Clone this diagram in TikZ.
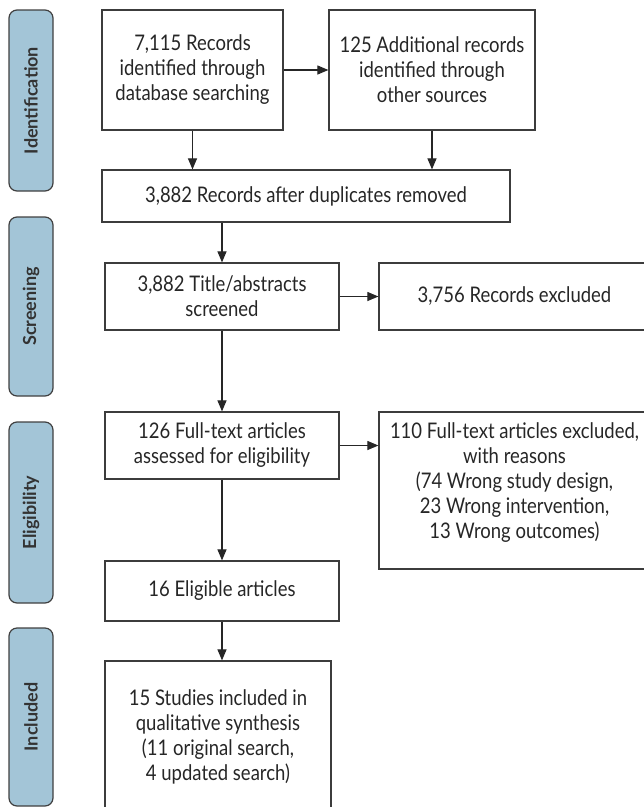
\documentclass[tikz,border=0pt]{standalone}
\usepackage{fontspec}
\setmainfont{Lato}[FakeStretch=0.86]
\newfontfamily\stagefont{Lato}
\usetikzlibrary{arrows.meta}
\definecolor{stageblue}{RGB}{163,197,215}
\definecolor{boxgray}{RGB}{60,60,60}

\begin{document}
\begin{tikzpicture}[x=1pt,y=-1pt,
      box/.style={draw=boxgray,line width=1.2pt,align=center,inner sep=0pt,
        font=\fontsize{21.5}{25}\selectfont,text=black!85},
      stage/.style={draw=black!75,line width=1.2pt,fill=stageblue,
        rounded corners=8pt,rotate=90,minimum height=44pt,inner sep=0pt,
        font=\stagefont\bfseries\fontsize{18}{20}\selectfont,text=black!80},
      arr/.style={draw=black!85,line width=1.1pt,
        -{Triangle[length=11pt,width=9pt]}}]
    \clip (0,0) rectangle (644,807);
    \node[stage,minimum width=181pt] (ident) at (31,100.5) {Identification};
    \node[stage,minimum width=179pt] (screen) at (31,306.5) {Screening};
    \node[stage,minimum width=181pt] (elig) at (31,512.5) {Eligibility};
    \node[stage,minimum width=178pt] (incl) at (31,717) {Included};
    \node[box,minimum width=181pt,minimum height=120pt] (search) at (192.5,70)
      {7,115 Records\\identified through\\database searching};
    \node[box,minimum width=206pt,minimum height=120pt] (other) at (432,70)
      {125 Additional records\\identified through\\other sources};
    \node[box,minimum width=408pt,minimum height=52pt] (dedup) at (306,196)
      {3,882 Records after duplicates removed};
    \node[box,minimum width=234pt,minimum height=67pt] (screened) at (222,296.5)
      {3,882 Title/abstracts\\screened};
    \node[box,minimum width=271pt,minimum height=67pt] (excl) at (514.5,296.5)
      {3,756 Records excluded};
    \node[box,minimum width=234pt,minimum height=67pt] (fulltext) at (222,445.5)
      {126 Full-text articles\\assessed for eligibility};
    \node[box,minimum width=271pt,minimum height=157pt] (reasons) at (514.5,490.5)
      {110 Full-text articles excluded,\\with reasons\\(74 Wrong study design,\\
       23 Wrong intervention,\\13 Wrong outcomes)\rule[-19pt]{0pt}{0pt}};
    \node[box,minimum width=234pt,minimum height=60pt] (eligible) at (222,591)
      {16 Eligible articles};
    \node[box,minimum width=226pt,minimum height=151pt] (studies) at (218,736.5)
      {15 Studies included in\\qualitative synthesis\\(11 original search,\\
       4 updated search)};
    \draw[arr] (search) -- (other);
    \draw[arr] (search.south) -- (search.south |- dedup.north);
    \draw[arr] (other.south) -- (other.south |- dedup.north);
    \draw[arr] (dedup.south -| screened.north) -- (screened.north);
    \draw[arr] (screened) -- (excl);
    \draw[arr] (screened) -- (fulltext);
    \draw[arr] (fulltext.east) -- (fulltext.east -| reasons.west);
    \draw[arr] (fulltext) -- (eligible);
    \draw[arr] (eligible.south) -- (eligible.south |- studies.north);
  \end{tikzpicture}
\end{document}
